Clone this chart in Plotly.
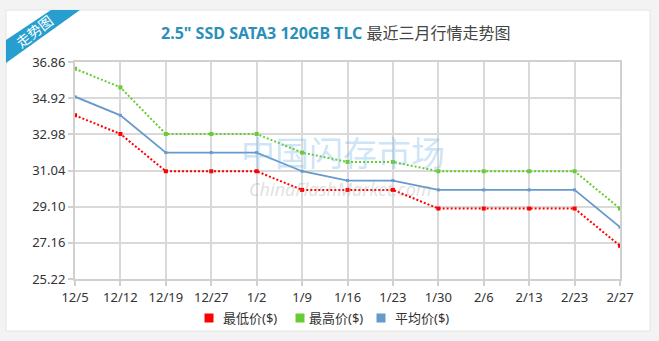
import plotly.graph_objects as go

# Weekly quotes, USD
dates = ["12/5", "12/12", "12/19", "12/27", "1/2", "1/9", "1/16",
         "1/23", "1/30", "2/6", "2/13", "2/23", "2/27"]
low_price = [34.0, 33.0, 31.0, 31.0, 31.0, 30.0, 30.0, 30.0, 29.0, 29.0, 29.0, 29.0, 27.0]
high_price = [36.5, 35.5, 33.0, 33.0, 33.0, 32.0, 31.5, 31.5, 31.0, 31.0, 31.0, 31.0, 29.0]
avg_price = [35.0, 34.0, 32.0, 32.0, 32.0, 31.0, 30.5, 30.5, 30.0, 30.0, 30.0, 30.0, 28.0]
y_ticks = [25.22, 27.16, 29.10, 31.04, 32.98, 34.92, 36.86]

series_names = ["最低价($)", "最高价($)", "平均价($)"]
series_colors = ["#ff0000", "#66cc33", "#6699cc"]

W, H = 659, 341
L, R, T, B = 75, 620, 62, 279
FONT = "Noto Sans, Noto Sans CJK SC, sans-serif"


def px(x):
    return (x - L) / (R - L)


def py(y):
    return (B - y) / (B - T)


fig = go.Figure()

for name, vals, color, dash in [
    (series_names[0], low_price, series_colors[0], "2px,2px"),
    (series_names[1], high_price, series_colors[1], "2px,2px"),
    (series_names[2], avg_price, series_colors[2], "solid"),
]:
    fig.add_trace(go.Scatter(
        x=dates, y=vals, name=name, mode="lines+markers",
        line=dict(color=color, width=2 if dash != "solid" else 1.8, dash=dash),
        marker=dict(color=color, size=4 if dash != "solid" else 3, symbol="square"),
        showlegend=False,
        hovertemplate="%{x}: %{y:.2f}<extra>" + name + "</extra>",
    ))

shapes = [
    # white card
    dict(type="rect", xref="paper", yref="paper", layer="below",
         x0=px(6), x1=px(650), y0=py(331), y1=py(10),
         fillcolor="white", line=dict(color="#e4e4e4", width=1)),
    # corner ribbon
    dict(type="path", xref="paper", yref="paper", layer="above",
         path=(f"M {px(6)},{py(40)} L {px(51)},{py(10)} L {px(80)},{py(10)} "
               f"L {px(6)},{py(63)} Z"),
         fillcolor="#269fd0", line=dict(width=0)),
]

annotations = [
    dict(xref="paper", yref="paper", x=px(336), y=py(33.5),
         text=("<b><span style='color:#2a8fbb'>2.5\" SSD SATA3 120GB TLC</span></b>"
               " <span style='color:#444444'>最近三月行情走势图</span>"),
         showarrow=False, font=dict(size=16, family=FONT),
         xanchor="center", yanchor="middle"),
    dict(xref="paper", yref="paper", x=px(34), y=py(31),
         text="走势图", showarrow=False, textangle=-38,
         font=dict(size=14, color="white", family=FONT),
         xanchor="center", yanchor="middle"),
    # watermark
    dict(xref="paper", yref="paper", x=px(343), y=py(153),
         text="中国闪存市场", showarrow=False,
         font=dict(size=34, color="rgba(110,180,230,0.35)", family=FONT),
         xanchor="center", yanchor="middle", borderpad=0),
    dict(xref="paper", yref="paper", x=px(340), y=py(189),
         text="<i>ChinaFlashMarket.com</i>", showarrow=False,
         font=dict(size=18, color="rgba(150,150,150,0.3)", family=FONT),
         xanchor="center", yanchor="middle", borderpad=0),
]

# legend: colour squares and labels
legend_sq_x = [209, 300, 381]
legend_tx_x = [221, 307, 393]
for name, color, sx, tx in zip(series_names, series_colors, legend_sq_x, legend_tx_x):
    shapes.append(dict(type="rect", xref="paper", yref="paper",
                       x0=px(sx - 4.5), x1=px(sx + 4.5), y0=py(322.5), y1=py(313.5),
                       fillcolor=color, line=dict(width=0)))
    annotations.append(dict(xref="paper", yref="paper", x=px(tx), y=py(318),
                            text=name, showarrow=False,
                            font=dict(size=13, color="#333333", family=FONT),
                            xanchor="left", yanchor="middle"))

fig.update_layout(
    width=W, height=H,
    margin=dict(l=L, r=W - R, t=T, b=H - B),
    paper_bgcolor="#f3f3f3",
    plot_bgcolor="white",
    font=dict(family=FONT, size=13, color="#333333"),
    shapes=shapes,
    annotations=annotations,
    showlegend=False,
    xaxis=dict(
        type="category", range=[0, len(dates) - 1],
        showgrid=True, gridcolor="#d9d9d9", gridwidth=2,
        showline=True, linecolor="#d0d0d0", linewidth=2, mirror=True,
        ticks="outside", ticklen=5, tickcolor="#d0d0d0", tickwidth=2,
        tickfont=dict(size=13, color="#333333"),
        zeroline=False,
    ),
    yaxis=dict(
        range=[y_ticks[0], y_ticks[-1]],
        tickvals=y_ticks, ticktext=[f"{v:.2f}" for v in y_ticks],
        showgrid=True, gridcolor="#d9d9d9", gridwidth=2,
        showline=True, linecolor="#d0d0d0", linewidth=2, mirror=True,
        ticks="outside", ticklen=5, tickcolor="#d0d0d0", tickwidth=2,
        tickfont=dict(size=13, color="#333333"),
        zeroline=False,
    ),
)

fig.write_html("out.html")
